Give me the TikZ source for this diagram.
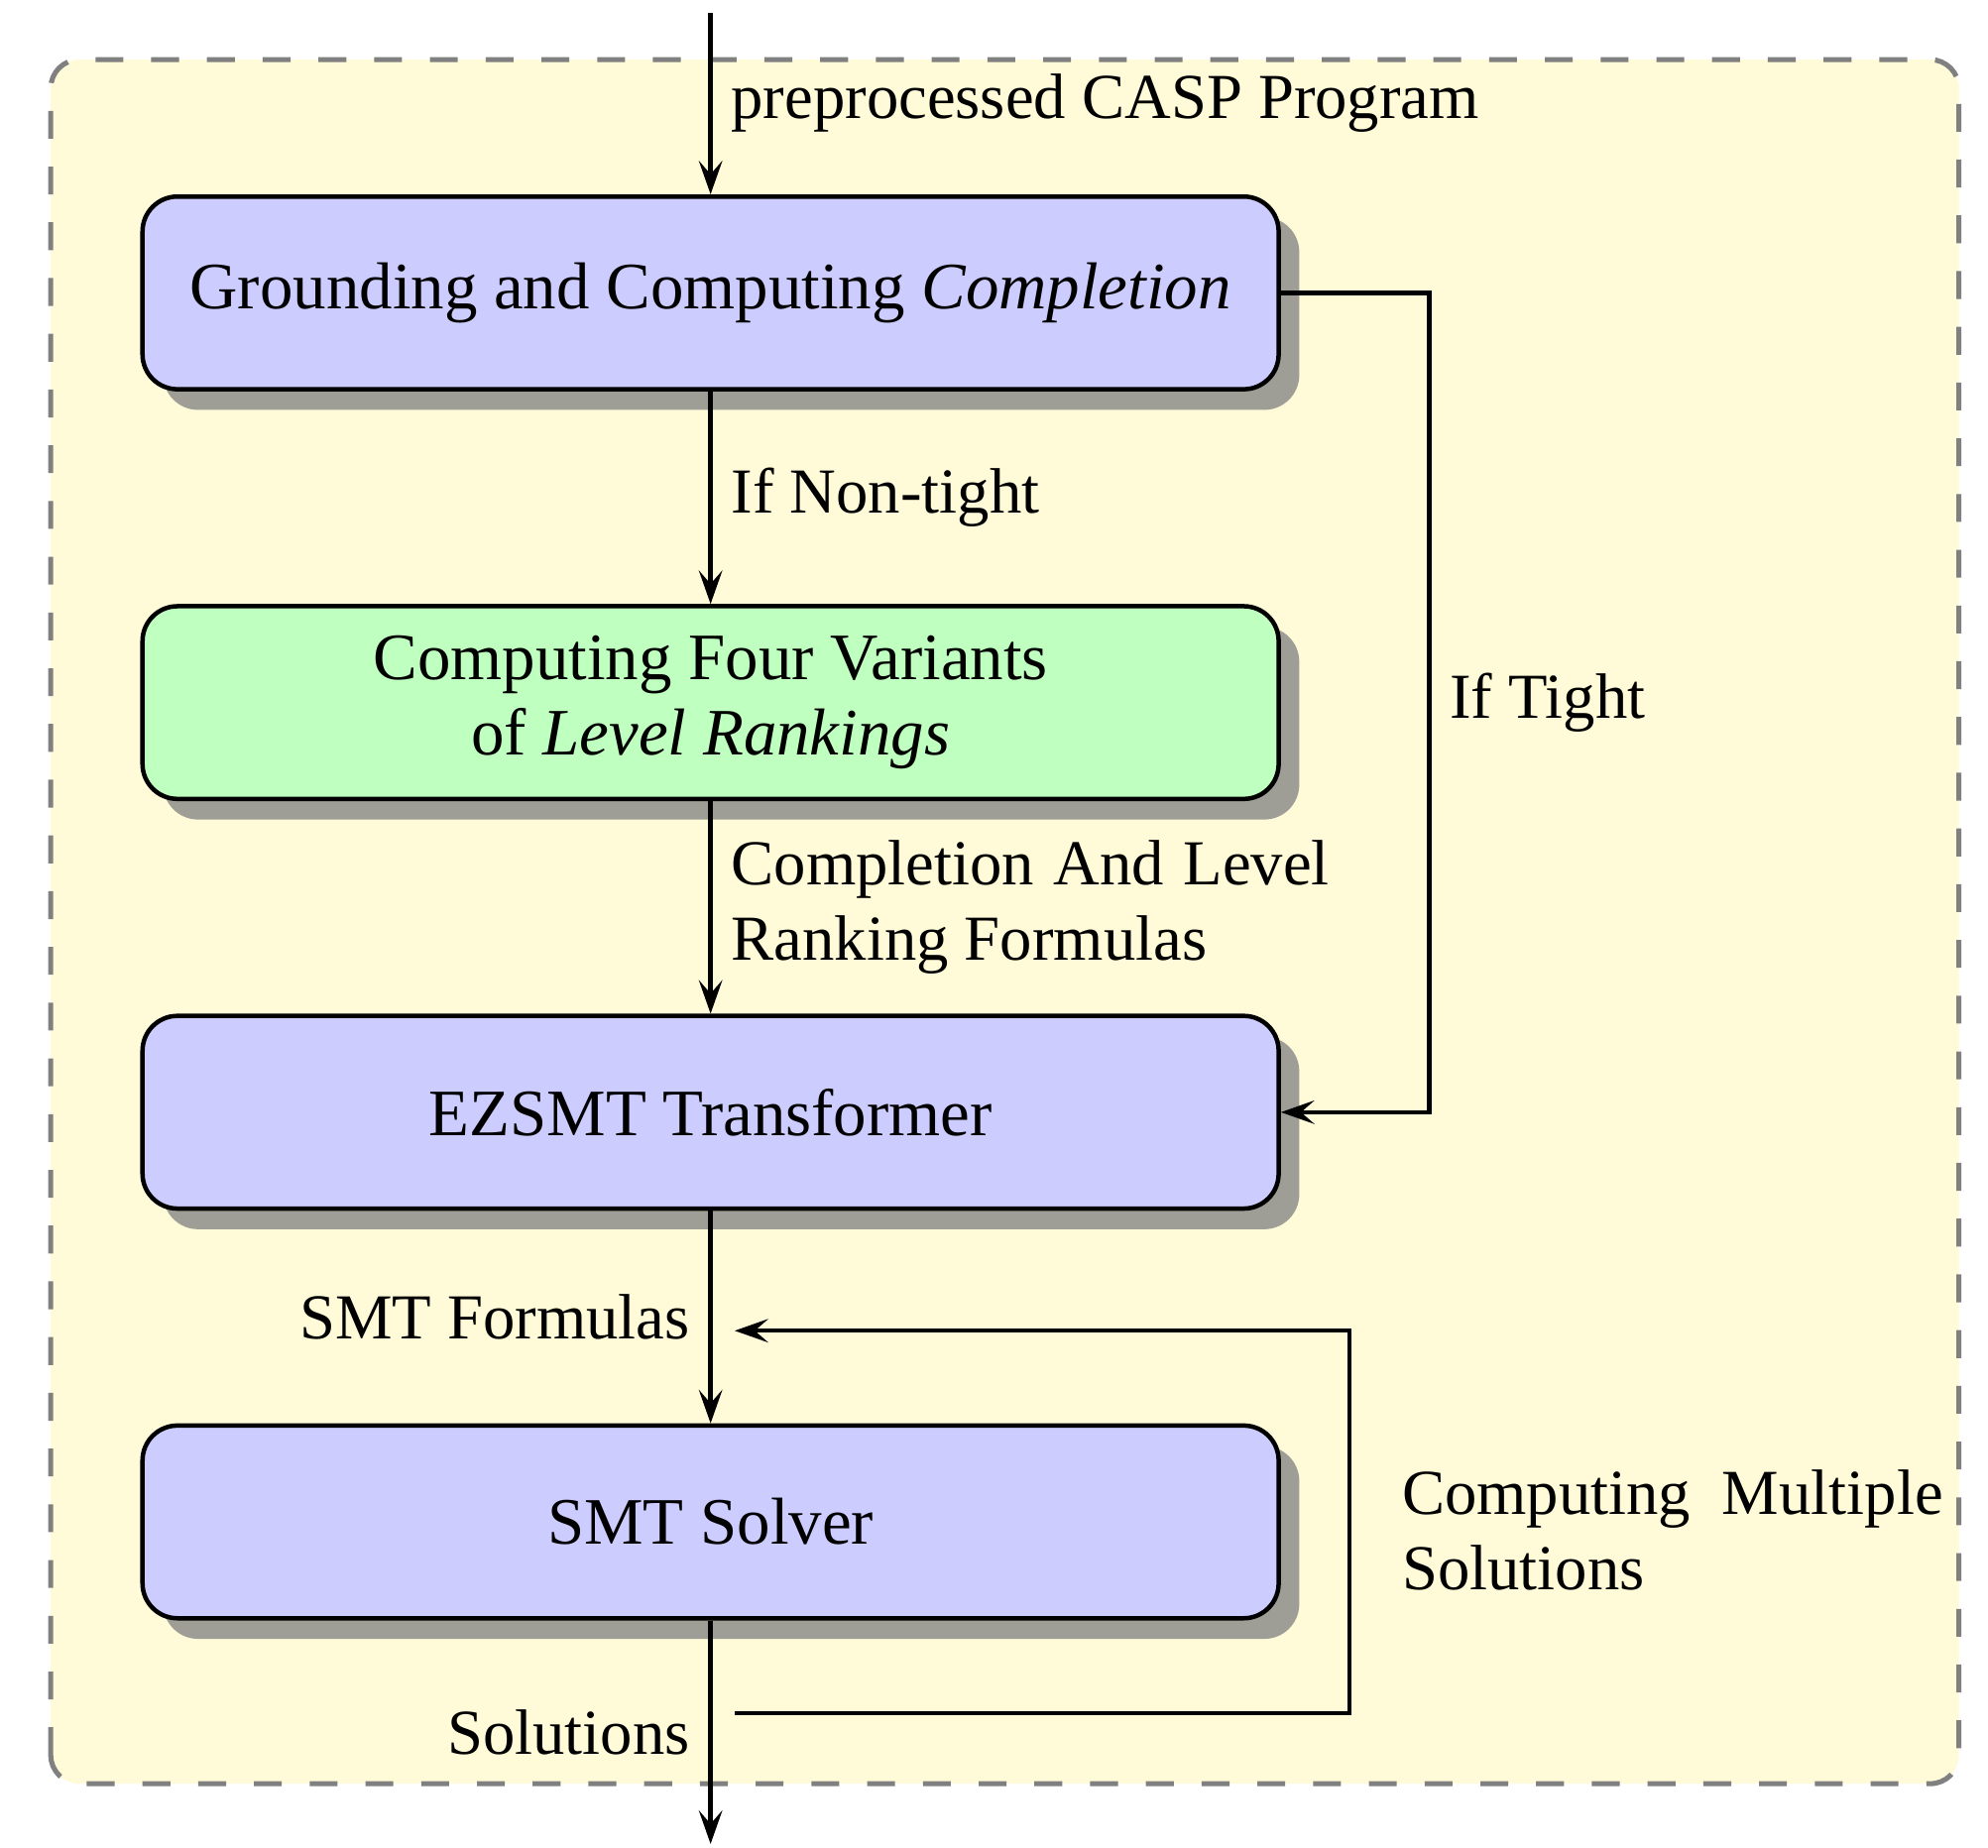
\documentclass[tikz,border=0pt]{standalone}
\usepackage{fontspec}
\setmainfont{Liberation Serif}
\usepackage{xcolor}
\usepackage{tikz}
\usetikzlibrary{arrows.meta,positioning,shadows}

\definecolor{boxblue}{RGB}{204,204,255}
\definecolor{boxgreen}{RGB}{191,255,191}
\definecolor{areafill}{RGB}{255,250,215}
\definecolor{shadowgray}{RGB}{158,158,150}

\begin{document}
\begin{tikzpicture}[
        font=\fontsize{11.5}{13.5}\selectfont,
        node distance=1.34cm,
        box/.style={rectangle, draw, thick, rounded corners=0.22cm,
                    minimum width=7.163cm, minimum height=1.215cm,
                    align=center, fill=boxblue,
                    font=\fontsize{11.9}{13.5}\selectfont,
                    drop shadow={shadow xshift=0.13cm, shadow yshift=-0.13cm,
                                 fill=shadowgray, opacity=1}},
        arrow/.style={-{Stealth[length=6pt, width=4.2pt, inset=2.4pt]}, thick},
        area/.style={draw=gray, fill=areafill, line width=0.9pt,
                     dash pattern=on 5pt off 5pt, rounded corners=0.18cm}
    ]
        \useasboundingbox (0,0) rectangle (12.534,11.647);

        % dashed solver area
        \draw[area] (0.32,0.40) rectangle (12.35,11.271);

        \node[box] (ground) at (4.48,9.80) {Grounding and Computing \textit{Completion}};
        \node[box, fill=boxgreen, below=of ground] (level) {Computing Four Variants\\ of \textit{Level Rankings}};
        \node[box, below=of level] (trans) {EZSMT Transformer};
        \node[box, below=of trans] (solver) {SMT Solver};

        \coordinate (in) at (4.48,11.567);
        \coordinate (out) at (4.48,0.02);
        \coordinate[below right=0.584cm and 0.152cm of solver.south] (loopout);
        \coordinate[above right=0.584cm and 0.152cm of solver.north] (loopin);

        \draw[arrow] (in) -- node[right] {preprocessed CASP Program} (ground);
        \draw[arrow] (ground) -- node[right] {If Non-tight} (level);
        \draw[arrow] (level) -- node[right, text width=3.77cm, align=justify] {Completion And Level Ranking Formulas} (trans);
        \draw[arrow] (trans) -- node[left] {SMT Formulas} (solver);
        \draw[arrow] (solver) -- node[left] {Solutions} (out);

        % tight programs skip the level rankings
        \draw[arrow] (ground.east) -- ++(0.935,0) |- node[pos=0.25, right] {If Tight} (trans.east);

        % loop for further solutions
        \draw[arrow] (loopout) -- ++(3.877,0) |- node[pos=0.25, right=0.2cm, yshift=-0.05cm, text width=3.41cm, align=justify] {Computing Multiple Solutions} (loopin);
    \end{tikzpicture}
\end{document}
